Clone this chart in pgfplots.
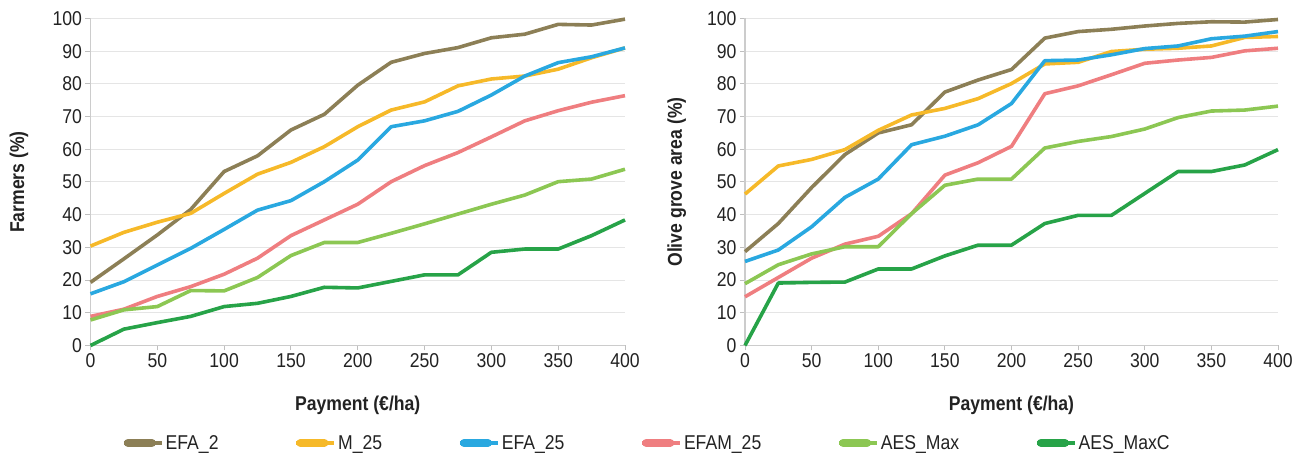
\documentclass[border=0pt]{standalone}
\usepackage{pgfplots}
\pgfplotsset{compat=1.18}
\usepackage{pgfplotstable}
\usepackage{fontspec}
\setmainfont[FakeStretch=0.88]{Liberation Sans}

\definecolor{cEFAtwo}{HTML}{8C7F56}
\definecolor{cMtwentyfive}{HTML}{F6B929}
\definecolor{cEFAtf}{HTML}{29A8E0}
\definecolor{cEFAM}{HTML}{EF7E80}
\definecolor{cAES}{HTML}{8CC753}
\definecolor{cAESC}{HTML}{27A348}
\definecolor{txt}{HTML}{222222}

\pgfplotstableread{
x   efa2  m25   efa25 efam25 aesmax aesmaxc
0   19.3  30.4  15.8  8.9    7.8    0
25  26.5  34.6  19.5  11.1   10.9   5.0
50  33.8  37.7  24.6  15.0   11.9   7.0
75  41.6  40.4  29.7  18.0   16.8   8.9
100 53.2  46.5  35.5  21.8   16.7   11.9
125 58.0  52.4  41.4  26.7   20.8   12.9
150 65.9  56.0  44.3  33.6   27.5   15.0
175 70.7  60.8  50.1  38.4   31.5   17.8
200 79.6  66.9  56.7  43.2   31.5   17.6
225 86.6  72.0  66.9  50.1   34.3   19.6
250 89.3  74.5  68.7  55.0   37.2   21.6
275 91.1  79.4  71.6  59.0   40.2   21.6
300 94.1  81.5  76.6  63.8   43.2   28.5
325 95.2  82.4  82.4  68.7   46.0   29.5
350 98.2  84.5  86.5  71.8   50.1   29.5
375 98.0  88.0  88.3  74.4   50.9   33.6
400 99.8  91.0  91.0  76.4   53.9   38.4
}\farmers

\pgfplotstableread{
x   efa2  m25   efa25 efam25 aesmax aesmaxc
0   28.7  46.3  25.7  14.9   18.9   0
25  37.3  54.9  29.2  20.8   24.7   19.1
50  48.3  56.9  36.3  26.7   28.0   19.3
75  58.4  59.9  45.3  31.0   30.2   19.4
100 65.0  65.8  50.9  33.4   30.2   23.4
125 67.5  70.5  61.4  40.3   40.3   23.4
150 77.5  72.5  64.0  52.1   49.0   27.4
175 81.2  75.5  67.5  55.9   50.9   30.7
200 84.4  80.1  74.0  60.9   50.9   30.7
225 94.0  86.1  87.1  77.0   60.4   37.3
250 96.0  86.6  87.3  79.4   62.4   39.8
275 96.7  89.9  88.9  82.8   63.9   39.8
300 97.7  90.6  90.8  86.3   66.2   46.5
325 98.5  90.9  91.6  87.3   69.7   53.2
350 99.0  91.6  93.8  88.1   71.7   53.2
375 98.9  94.2  94.6  90.1   72.0   55.2
400 99.7  94.5  96.0  90.9   73.2   59.9
}\area

\pgfplotsset{
  mystyle/.style={
    scale only axis,
    height=327pt,
    xmin=0, xmax=400, ymin=0, ymax=100,
    xtick={0,50,...,400},
    ytick={0,10,...,100},
    axis x line=bottom, axis y line=left,
    axis line style={-, draw=black!20, line width=1.5pt},
    tick align=outside,
    major tick length=5pt,
    tick style={draw=black!25, line width=1pt},
    ymajorgrids,
    grid style={draw=black!10, line width=1pt},
    clip=false,
    /pgf/number format/assume math mode=true,
    tick label style={font=\fontsize{20}{24}\selectfont, text=txt},
    label style={font=\fontsize{20}{24}\selectfont\bfseries, text=txt},
    xlabel={Payment (€/ha)},
    xlabel style={at={(axis description cs:0.5,-0.183)}, anchor=center},
    every axis plot/.append style={line width=3.6pt, line join=round},
    legend image code/.code={\draw[line width=8pt, line cap=round, ##1] (4pt,0pt) -- (28pt,0pt); \path (0pt,0pt) -- (38pt,0pt);},
  }
}

\begin{document}
\begin{tikzpicture}
\useasboundingbox (0,0) rectangle (1305pt,454pt);
\begin{axis}[mystyle,
  at={(90.5pt,108.5pt)}, anchor=south west,
  width=534.5pt,
  ylabel={Farmers (\%)},
  ylabel style={at={(axis description cs:-0.134,0.5)}, anchor=center},
  legend columns=6,
  legend style={at={(axis description cs:1.041,-0.298)}, anchor=center,
    draw=none, fill=none,
    font=\fontsize{20}{24}\selectfont, text=txt,
    /tikz/every even column/.append style={column sep=74pt}},
]
\addplot[cEFAtwo] table[x=x,y=efa2] {\farmers};
\addplot[cMtwentyfive] table[x=x,y=m25] {\farmers};
\addplot[cEFAtf] table[x=x,y=efa25] {\farmers};
\addplot[cEFAM] table[x=x,y=efam25] {\farmers};
\addplot[cAES] table[x=x,y=aesmax] {\farmers};
\addplot[cAESC] table[x=x,y=aesmaxc] {\farmers};
\legend{EFA\_2, M\_25, EFA\_25, EFAM\_25, AES\_Max, AES\_MaxC}
\end{axis}
\begin{axis}[mystyle,
  at={(745pt,108.5pt)}, anchor=south west,
  width=533pt,
  ylabel={Olive grove area (\%)},
  ylabel style={at={(axis description cs:-0.128,0.5)}, anchor=center},
]
\addplot[cEFAtwo] table[x=x,y=efa2] {\area};
\addplot[cMtwentyfive] table[x=x,y=m25] {\area};
\addplot[cEFAtf] table[x=x,y=efa25] {\area};
\addplot[cEFAM] table[x=x,y=efam25] {\area};
\addplot[cAES] table[x=x,y=aesmax] {\area};
\addplot[cAESC] table[x=x,y=aesmaxc] {\area};
\end{axis}
\end{tikzpicture}
\end{document}
